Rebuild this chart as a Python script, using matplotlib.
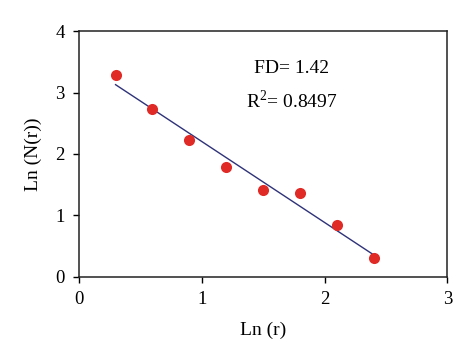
import matplotlib
matplotlib.use("Agg")
import matplotlib.pyplot as plt
import numpy as np

# data
ln_r = [0.3, 0.6, 0.9, 1.2, 1.5, 1.8, 2.1, 2.4]
ln_n = [3.28, 2.73, 2.23, 1.79, 1.41, 1.36, 0.84, 0.30]
fd_text = "FD= 1.42"
r2_text = "R$^2$= 0.8497"

plt.rcParams['font.family'] = ['Liberation Serif', 'DejaVu Serif']
plt.rcParams['mathtext.fontset'] = 'custom'
plt.rcParams['mathtext.rm'] = 'Liberation Serif'

fig = plt.figure(figsize=(4.74, 3.64), dpi=100)
ax = fig.add_axes([0.166, 0.240, 0.778, 0.674])

# least-squares trend line
slope, icpt = np.polyfit(ln_r, ln_n, 1)
xs = np.array([ln_r[0], ln_r[-1]])
ax.plot(xs, slope * xs + icpt, color='#2e3278', linewidth=1.0, zorder=2)

ax.plot(ln_r, ln_n, 'o', color='#e02a26', markersize=8,
        markeredgewidth=0, zorder=3)

ax.text(1.73, 3.40, fd_text, ha='center', va='center', fontsize=14)
ax.text(1.73, 2.87, r2_text, ha='center', va='center', fontsize=14)

ax.set_xlim(0, 3)
ax.set_ylim(0, 4)
ax.set_xticks([0, 1, 2, 3])
ax.set_yticks([0, 1, 2, 3, 4])
ax.tick_params(direction='out', length=4, width=1, labelsize=13.5)
ax.tick_params(axis='x', pad=6)
ax.tick_params(axis='y', pad=6)
for s in ax.spines.values():
    s.set_linewidth(1.1)
    s.set_color('#222222')

ax.set_xlabel('Ln (r)', fontsize=14, labelpad=10)
ax.set_ylabel('Ln (N(r))', fontsize=14, labelpad=10)

fig.savefig('out.png', dpi=100)
